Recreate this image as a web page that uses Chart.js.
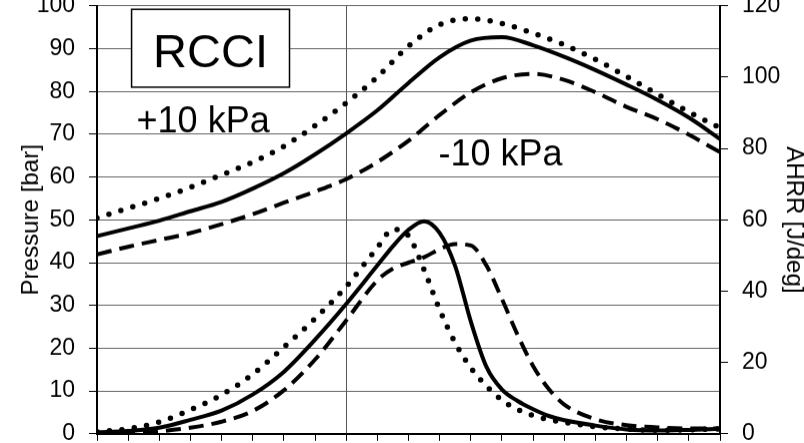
<!DOCTYPE html>
<html>
<head>
<meta charset="utf-8">
<title>RCCI pressure and AHRR</title>
<script src="https://cdn.jsdelivr.net/npm/chart.js@4.4.1/dist/chart.umd.min.js"></script>
<style>
  html, body { margin: 0; padding: 0; background: #fff; overflow: hidden; width: 804px; height: 443px; }
  #wrap { position: absolute; left: 0; top: 0; width: 804px; height: 443px; }
</style>
</head>
<body>
<div id="wrap"><canvas id="chart"></canvas></div>
<script>
// Crank angle [deg] samples for the cylinder pressure traces
const crankAngle = [-8, -7, -6, -5, -4, -3, -2, -1, 0, 1, 2, 3, 4, 5, 6, 7, 8, 9, 10, 11, 12];

// Cylinder pressure [bar]
const pressureBase  = [46.2, 48.0, 49.8, 52.0, 54.2, 57.3, 60.9, 65.3, 70.2, 75.6, 82.0, 88.0, 91.9, 92.7, 90.8, 88.1, 85.0, 81.6, 78.0, 73.9, 68.9];
const pressurePlus  = [50.4, 52.7, 55.0, 57.6, 60.5, 63.5, 67.2, 72.0, 77.3, 83.4, 90.6, 95.6, 97.0, 95.9, 93.6, 90.9, 87.5, 83.5, 79.3, 75.2, 71.5];
const pressureMinus = [41.9, 43.7, 45.3, 46.9, 49.0, 51.3, 54.0, 56.6, 59.5, 63.5, 68.5, 74.5, 79.8, 83.1, 84.1, 82.7, 79.8, 76.4, 73.5, 69.9, 65.8];

// Crank angle [deg] samples for the apparent heat release rate traces
const ahrrAngle = [-8, -7, -6, -5, -4, -3, -2, -1, 0, 1, 1.5, 2, 2.5, 3, 3.5, 4, 4.5, 5, 5.5, 6, 6.5, 7, 8, 9, 10, 11, 12];

// Apparent heat release rate [J/deg]
const ahrrBase  = [0.4, 0.8, 1.7, 3.9, 6.5, 11.0, 17.4, 26.4, 36.4, 47.2, 52.6, 57.2, 59.6, 56.3, 47.0, 31.5, 18.8, 12.4, 9.2, 6.9, 5.0, 3.8, 2.3, 1.2, 0.9, 1.1, 1.4];
const ahrrPlus  = [0.6, 1.4, 3.3, 6.7, 10.9, 16.7, 24.3, 32.3, 41.3, 52.2, 57.3, 55.5, 46.0, 34.8, 25.5, 18.5, 13.4, 9.4, 6.8, 5.1, 4.0, 3.2, 2.0, 1.3, 1.0, 1.1, 1.4];
const ahrrMinus = [0.2, 0.3, 0.7, 1.7, 3.4, 6.4, 12.2, 20.8, 31.8, 43.0, 46.3, 48.0, 49.5, 51.8, 53.2, 52.8, 47.2, 37.8, 27.8, 19.0, 12.6, 8.2, 4.1, 2.4, 1.8, 1.5, 1.5];

// Axis ranges and tick steps
const angleRange = [-8, 12];
const pressureTicks = { min: 0, max: 100, step: 10 };
const ahrrTicks = { min: 0, max: 120, step: 20 };

const FONT = '"Liberation Sans", Arial, Helvetica, sans-serif';

// Where the plot frame should sit on the page
const FRAME_TOP = 6;
const FRAME_BOTTOM = 433;

function series(xs, ys) {
  return xs.map((x, i) => ({ x: x, y: ys[i] }));
}

const solidStyle  = { borderWidth: 4, borderDash: [] };
const dottedStyle = { borderWidth: 5.5, borderDash: [0, 12.5], borderCapStyle: 'round' };
const dashedStyle = { borderWidth: 4, borderDash: [15, 8] };

function line(data, axis, style) {
  return Object.assign({
    data: data,
    yAxisID: axis,
    borderColor: '#000',
    backgroundColor: '#000',
    pointRadius: 0,
    pointHoverRadius: 0,
    fill: false,
    cubicInterpolationMode: 'monotone'
  }, style);
}

// Labels, the case box and the axis titles drawn onto the canvas
const chartText = {
  id: 'chartText',
  beforeDatasetsDraw(chart) {
    const { ctx, scales: { x, y } } = chart;
    ctx.save();
    // "RCCI" boxed label
    const bx0 = x.getPixelForValue(-6.89), bx1 = x.getPixelForValue(-1.82);
    const by0 = y.getPixelForValue(99.2), by1 = y.getPixelForValue(81.0);
    ctx.fillStyle = '#fff';
    ctx.fillRect(bx0, by0, bx1 - bx0, by1 - by0);
    ctx.strokeStyle = '#000';
    ctx.lineWidth = 1.5;
    ctx.strokeRect(bx0, by0, bx1 - bx0, by1 - by0);
    ctx.fillStyle = '#000';
    ctx.textBaseline = 'alphabetic';
    ctx.textAlign = 'center';
    ctx.font = '47px ' + FONT;
    ctx.fillText('RCCI', (bx0 + bx1) / 2, y.getPixelForValue(85.7));
    // intake pressure offsets
    ctx.textAlign = 'left';
    ctx.font = '36px ' + FONT;
    ctx.fillText('+10 kPa', x.getPixelForValue(-6.73), y.getPixelForValue(70.5));
    ctx.fillText('-10 kPa', x.getPixelForValue(2.96), y.getPixelForValue(62.8));
    ctx.restore();
  },
  afterDraw(chart) {
    const { ctx, chartArea } = chart;
    const midY = (chartArea.top + chartArea.bottom) / 2;
    ctx.save();
    ctx.fillStyle = '#000';
    ctx.font = '24px ' + FONT;
    ctx.textAlign = 'center';
    ctx.textBaseline = 'alphabetic';
    ctx.save();
    ctx.translate(38, midY);
    ctx.rotate(-Math.PI / 2);
    ctx.fillText('Pressure [bar]', 0, 0);
    ctx.restore();
    ctx.save();
    ctx.translate(787, midY);
    ctx.rotate(Math.PI / 2);
    ctx.fillText('AHRR [J/deg]', 0, 0);
    ctx.restore();
    ctx.restore();
  }
};

const chart = new Chart(document.getElementById('chart'), {
  type: 'line',
  data: {
    datasets: [
      line(series(crankAngle, pressureBase), 'y', solidStyle),
      line(series(crankAngle, pressurePlus), 'y', dottedStyle),
      line(series(crankAngle, pressureMinus), 'y', dashedStyle),
      line(series(ahrrAngle, ahrrBase), 'y1', solidStyle),
      line(series(ahrrAngle, ahrrPlus), 'y1', dottedStyle),
      line(series(ahrrAngle, ahrrMinus), 'y1', dashedStyle)
    ]
  },
  options: {
    responsive: true,
    maintainAspectRatio: false,
    animation: false,
    events: [],
    layout: { autoPadding: false, padding: { top: 0, bottom: 0, left: 0, right: 0 } },
    plugins: { legend: { display: false }, tooltip: { enabled: false } },
    scales: {
      x: {
        type: 'linear',
        min: angleRange[0],
        max: angleRange[1],
        ticks: { stepSize: 1, display: false },
        grid: {
          color: c => (c.tick && c.tick.value === 0 ? '#555' : 'rgba(0,0,0,0)'),
          tickColor: '#000',
          tickLength: 7,
          lineWidth: 1
        },
        border: { color: '#000', width: 2 }
      },
      y: {
        position: 'left',
        min: pressureTicks.min,
        max: pressureTicks.max,
        ticks: { stepSize: pressureTicks.step, color: '#000', padding: 14, font: { family: FONT, size: 23 } },
        grid: { color: '#666', tickColor: '#000', tickLength: 8, lineWidth: 1 },
        border: { color: '#000', width: 2 },
        afterFit: s => { s.width = 97; }
      },
      y1: {
        position: 'right',
        min: ahrrTicks.min,
        max: ahrrTicks.max,
        ticks: { stepSize: ahrrTicks.step, color: '#000', padding: 14, font: { family: FONT, size: 23 } },
        grid: { drawOnChartArea: false, tickColor: '#000', tickLength: 8 },
        border: { color: '#000', width: 2 },
        afterFit: s => { s.width = 84; }
      }
    }
  },
  plugins: [chartText]
});

// Stretch the canvas so the plot frame spans the page from FRAME_TOP to FRAME_BOTTOM;
// the top tick label and the space under the angle axis run past the page edges.
const area = chart.chartArea;
const padTop = area.top;
const padBottom = chart.height - area.bottom;
const wrap = document.getElementById('wrap');
wrap.style.top = (FRAME_TOP - padTop) + 'px';
wrap.style.height = (padTop + (FRAME_BOTTOM - FRAME_TOP) + padBottom) + 'px';
chart.resize();
</script>
</body>
</html>
